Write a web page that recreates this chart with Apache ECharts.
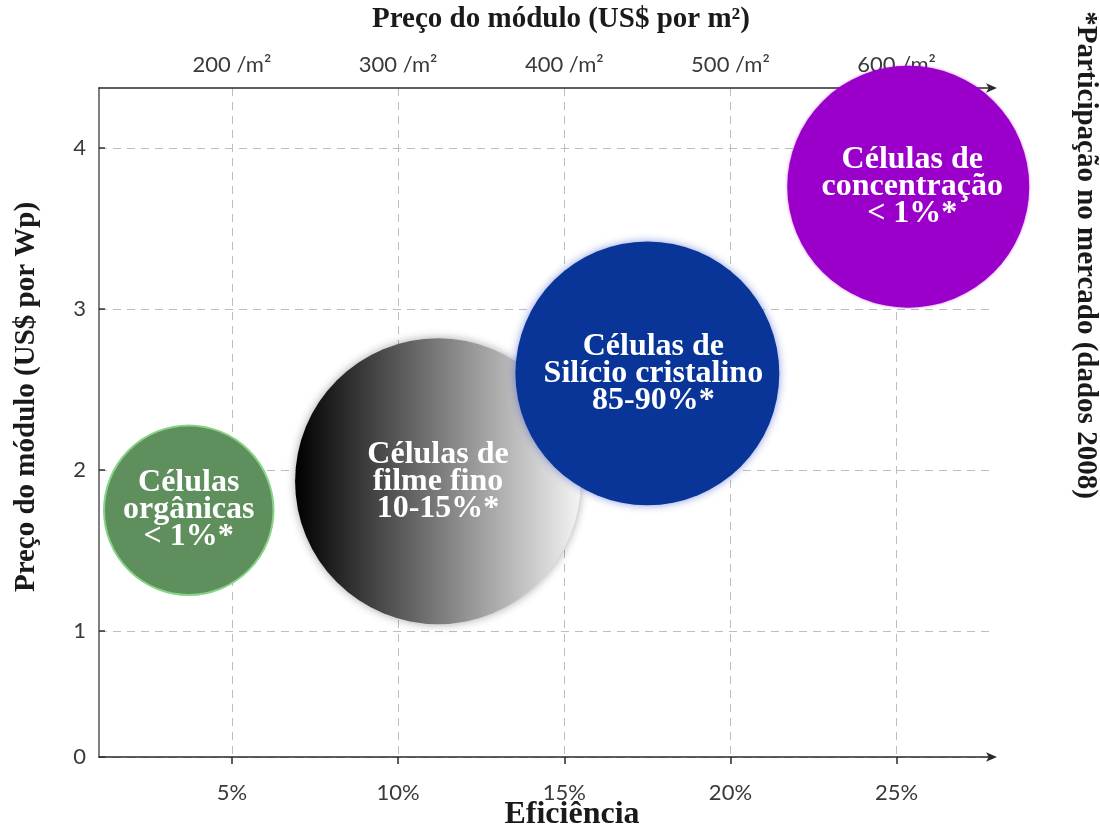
<!DOCTYPE html>
<html>
<head>
<meta charset="utf-8">
<style>
  html, body { margin: 0; padding: 0; background: #fff; }
  #chart { width: 1100px; height: 832px; }
</style>
<script src="https://cdn.jsdelivr.net/npm/echarts@6/dist/echarts.min.js"></script>
</head>
<body>
<div id="chart"></div>
<script>
// Solar cell technologies: efficiency vs. module price, with market share notes
const technologies = [
  'Células\norgânicas\n< 1%*',
  'Células de\nfilme fino\n10-15%*',
  'Células de\nSilício cristalino\n85-90%*',
  'Células de\nconcentração\n< 1%*'
];
const efficiency = [3.7, 11.2, 17.5, 25.35];      // %
const pricePerWp = [1.75, 1.93, 2.6, 3.76];       // US$ per Wp
const bubbleRadius = [2.55, 4.3, 3.97, 3.64];     // in efficiency points

// Axis ticks
const efficiencyTicks = [5, 10, 15, 20, 25];
const pricePerM2Ticks = [200, 300, 400, 500, 600];
const pricePerWpTicks = [0, 1, 2, 3, 4];

const X_MIN = 1, X_MAX = 27.9;
const Y_MIN = 0.217, Y_MAX = 4.373;

const serif = '"Liberation Serif", "Times New Roman", serif';
const sans = 'Lato, "Open Sans", sans-serif';
const titleFont = 'bold 29px ' + serif;

const bubbleStyles = [
  { color: '#5f8f5d', borderColor: '#86d486', borderWidth: 2 },
  {
    color: new echarts.graphic.LinearGradient(0, 0, 1, 0, [
      { offset: 0, color: '#000000' },
      { offset: 0.5, color: '#7a7a7a' },
      { offset: 1, color: '#f4f4f4' }
    ]),
    shadowBlur: 10, shadowColor: 'rgba(0,0,0,0.35)'
  },
  { color: '#083597', shadowBlur: 8, shadowColor: 'rgba(40,70,200,0.55)' },
  { color: '#9a00c9', shadowBlur: 3, shadowColor: 'rgba(150,0,200,0.5)' }
];
const labelOffsets = [[0, 0], [0, 0], [6, 0], [4, 0]];

const yTickValues = pricePerWpTicks.map(v => Math.max(v, Y_MIN));

const chart = echarts.init(document.getElementById('chart'), null, { renderer: 'canvas' });

function titleText(text, x, y, rotation, font) {
  return {
    type: 'text', x, y, rotation,
    style: { text, font, fill: '#1a1a1a', align: 'center', verticalAlign: 'middle' }
  };
}

function buildOption(pxPerPoint) {
  return {
    animation: false,
    backgroundColor: '#ffffff',
    grid: { left: 99, right: 107, top: 88, bottom: 75, containLabel: false, outerBoundsMode: 'none' },
    xAxis: [
      {
        type: 'value', position: 'bottom', min: X_MIN, max: X_MAX,
        axisLine: { show: true, symbol: ['none', 'arrow'], symbolSize: [7, 11], symbolOffset: [0, 4],
          lineStyle: { color: '#2a2a2a', width: 1.5 } },
        axisTick: { show: true, customValues: efficiencyTicks, length: 7, lineStyle: { color: '#2a2a2a', width: 1.5 } },
        axisLabel: { customValues: efficiencyTicks, formatter: v => v + '%', margin: 25,
          fontFamily: sans, fontSize: 22, color: '#3a3a3a' },
        splitLine: { show: true, lineStyle: { color: '#bdbdbd', type: [8, 6], width: 1 } }
      },
      {
        type: 'value', position: 'top', min: X_MIN, max: X_MAX,
        axisLine: { show: true, symbol: ['none', 'arrow'], symbolSize: [7, 11], symbolOffset: [0, 4],
          lineStyle: { color: '#2a2a2a', width: 1.5 } },
        axisTick: { show: false, customValues: efficiencyTicks },
        axisLabel: {
          customValues: efficiencyTicks,
          formatter: v => pricePerM2Ticks[efficiencyTicks.indexOf(v)] + ' /m²',
          margin: 12, fontFamily: sans, fontSize: 22, color: '#3a3a3a'
        },
        splitLine: { show: false }
      }
    ],
    yAxis: {
      type: 'value', min: Y_MIN, max: Y_MAX,
      axisLine: { show: true, lineStyle: { color: '#555', width: 1.5 } },
      axisTick: { show: true, inside: true, customValues: yTickValues, length: 6, lineStyle: { color: '#333', width: 1.5 } },
      axisLabel: {
        customValues: yTickValues,
        formatter: v => String(pricePerWpTicks[yTickValues.indexOf(v)]),
        margin: 13, fontFamily: sans, fontSize: 22, color: '#3a3a3a'
      },
      splitLine: { show: true, lineStyle: { color: '#bdbdbd', type: [8, 6], width: 1 } }
    },
    graphic: [
      titleText('Preço do módulo (US$ por m²)', 561, 20, 0, titleFont),
      titleText('Eficiência', 572, 815, 0, 'bold 32px ' + serif),
      titleText('Preço do módulo (US$ por Wp)', 27, 397, Math.PI / 2, titleFont),
      titleText('*Participação no mercado (dados 2008)', 1085, 255, -Math.PI / 2, titleFont)
    ],
    series: [{
      type: 'scatter',
      xAxisIndex: 0,
      symbol: 'circle',
      symbolSize: v => 2 * v[2] * pxPerPoint,
      label: {
        show: true, position: 'inside',
        formatter: p => p.name,
        fontFamily: serif, fontWeight: 'bold', fontSize: 32, lineHeight: 27, color: '#ffffff'
      },
      emphasis: { disabled: true },
      data: technologies.map((name, i) => ({
        name,
        value: [efficiency[i], pricePerWp[i], bubbleRadius[i]],
        itemStyle: Object.assign({ opacity: 1 }, bubbleStyles[i]),
        label: { offset: labelOffsets[i] }
      }))
    }]
  };
}

chart.setOption(buildOption(30));
const pxPerPoint = (chart.convertToPixel({ xAxisIndex: 0 }, 25) - chart.convertToPixel({ xAxisIndex: 0 }, 5)) / 20;
chart.setOption(buildOption(pxPerPoint), true);
</script>
</body>
</html>
